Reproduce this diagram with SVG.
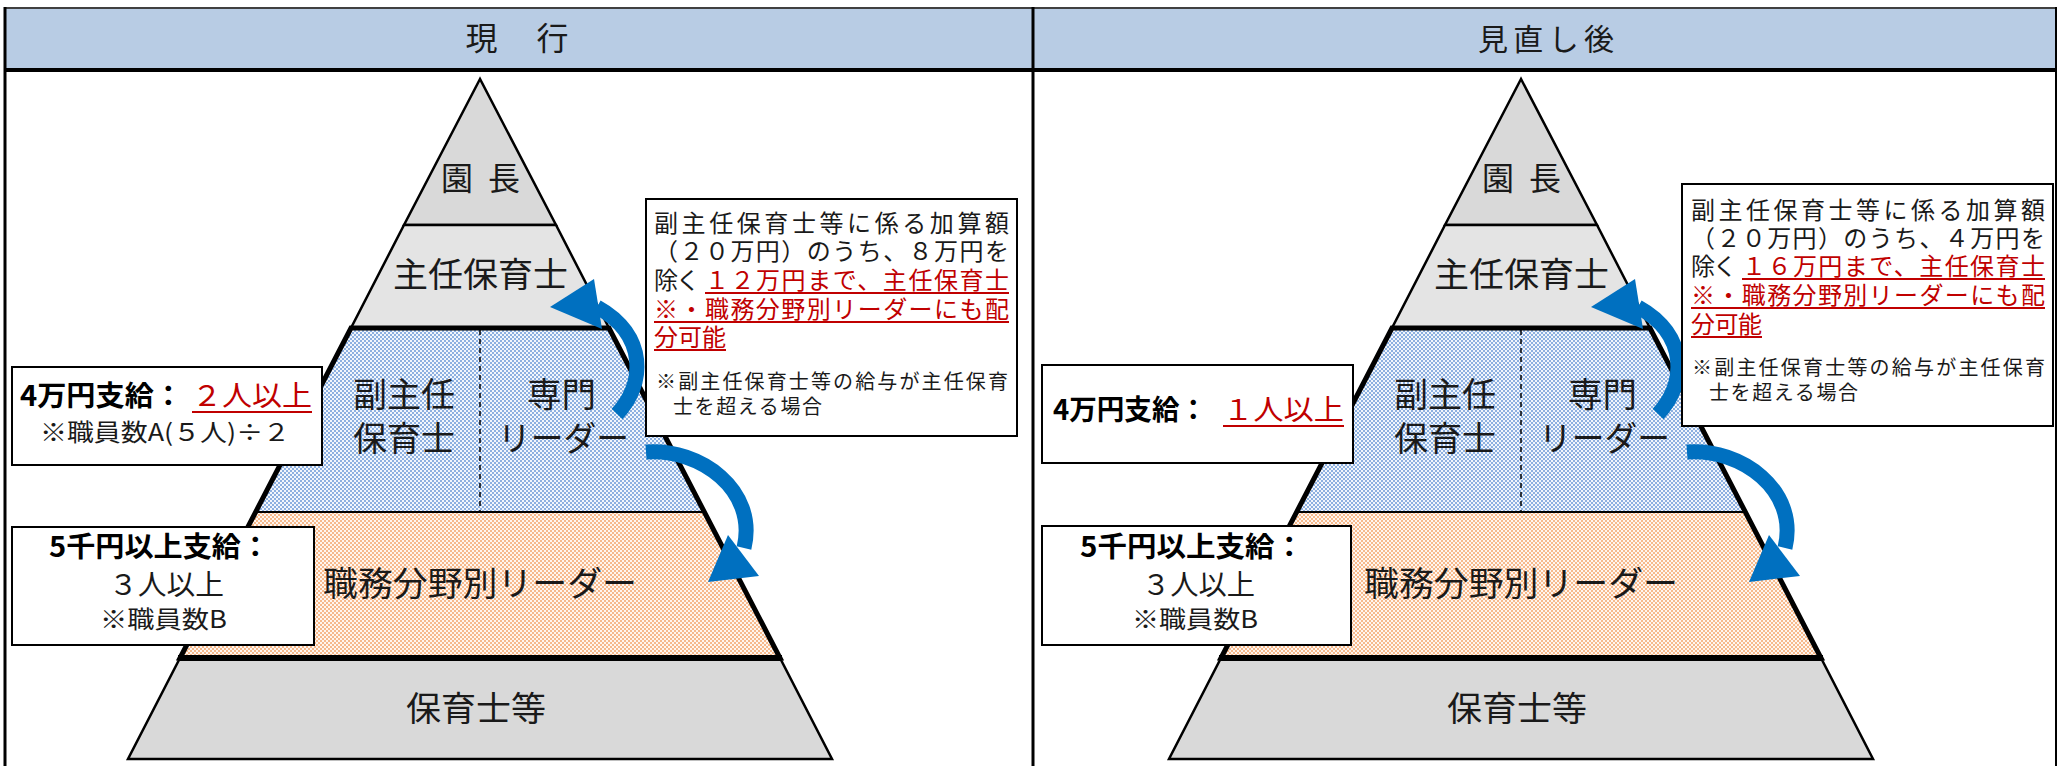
<svg xmlns="http://www.w3.org/2000/svg" width="2057" height="766" viewBox="0 0 2057 766">
<style>
.t{font-family:"Noto Sans CJK JP","Noto Sans CJK SC",sans-serif;fill:#1a1a1a}
.py{font-size:34px}
.bx{font-size:28px}
.sm{font-size:24px}
.cl{font-size:24px}
.cs{font-size:20px}
.b{font-weight:bold;fill:#000}
.red{fill:#C00000}
.ul{stroke:#C00000;stroke-width:2}
.box{fill:#fff;stroke:#000;stroke-width:2}
.thin{stroke:#000;stroke-width:2.5;fill:none}
.arr{fill:none;stroke:#0070C0;stroke-width:15}
.ah{fill:#0070C0}
</style>
<defs>
<pattern id="blueDots" width="4" height="4" patternUnits="userSpaceOnUse">
<rect width="4" height="4" fill="#F2F6FC"/>
<rect width="2" height="2" fill="#8DB0E0"/>
<rect x="2" y="2" width="2" height="2" fill="#8DB0E0"/>
</pattern>
<pattern id="orangeDots" width="4" height="4" patternUnits="userSpaceOnUse">
<rect width="4" height="4" fill="#FFF6EF"/>
<rect width="2" height="2" fill="#F6B98C"/>
<rect x="2" y="2" width="2" height="2" fill="#F6B98C"/>
</pattern>
</defs>

<g id="frame">
<rect x="5" y="8" width="2050" height="62" fill="#B8CCE4"/>
<line x1="5" y1="8" x2="2057" y2="8" stroke="#404040" stroke-width="2"/>
<line x1="5" y1="70" x2="2057" y2="70" stroke="#000" stroke-width="4"/>
<line x1="5" y1="7" x2="5" y2="766" stroke="#000" stroke-width="3"/>
<line x1="1033" y1="7" x2="1033" y2="766" stroke="#000" stroke-width="3"/>
<line x1="2056" y1="7" x2="2056" y2="766" stroke="#000" stroke-width="2"/>
<text class="t" x="517" y="50" font-size="32" text-anchor="middle" textLength="103" lengthAdjust="spacing" fill="#000">現　行</text>
<text class="t" x="1546" y="50" font-size="30" text-anchor="middle" textLength="136" lengthAdjust="spacing" fill="#000">見直し後</text>
</g>

<g id="pyramid-current">
<g id="p1-encho">
<polygon points="480,79 404,225 556,225" fill="#D9D9D9" stroke="#000" stroke-width="2.5"/>
<text class="t" x="441" y="190" font-size="32" textLength="79" lengthAdjust="spacing">園 長</text>
</g>
<g id="p1-shunin">
<polygon points="404,225 556,225 609,328 351,328" fill="#E4E4E4" stroke="#000" stroke-width="2.5"/>
<text class="t py" x="393" y="287" textLength="175" lengthAdjust="spacingAndGlyphs">主任保育士</text>
</g>
<g id="p1-fuku">
<polygon points="351,328 609,328 704,512 256,512" fill="url(#blueDots)"/>
<line x1="480" y1="330" x2="480" y2="512" stroke="#000" stroke-width="1.5" stroke-dasharray="5,4"/>
<text class="t py" x="353" y="407" textLength="102" lengthAdjust="spacingAndGlyphs">副主任</text>
<text class="t py" x="353" y="451" textLength="102" lengthAdjust="spacingAndGlyphs">保育士</text>
<text class="t py" x="527" y="407" textLength="69" lengthAdjust="spacingAndGlyphs">専門</text>
<text class="t py" x="498" y="451" textLength="131" lengthAdjust="spacingAndGlyphs">リーダー</text>
</g>
<g id="p1-shokumu">
<polygon points="256,512 704,512 780,658 180,658" fill="url(#orangeDots)"/>
<line x1="256" y1="512" x2="704" y2="512" stroke="#000" stroke-width="2"/>
<text class="t py" x="323" y="596" textLength="314" lengthAdjust="spacingAndGlyphs">職務分野別リーダー</text>
</g>
<polygon points="351,328 609,328 780,658 180,658" fill="none" stroke="#000" stroke-width="5" stroke-linejoin="miter"/>
<g id="p1-hoiku">
<polygon points="180,658 780,658 832,759 128,759" fill="#D9D9D9" stroke="#000" stroke-width="2.5"/>
<line x1="178" y1="658" x2="782" y2="658" stroke="#000" stroke-width="6"/>
<text class="t py" x="406" y="721" textLength="140" lengthAdjust="spacingAndGlyphs">保育士等</text>
</g>
</g>

<g id="pyramid-revised" transform="translate(1041,0)">
<g id="p2-encho">
<polygon points="480,79 404,225 556,225" fill="#D9D9D9" stroke="#000" stroke-width="2.5"/>
<text class="t" x="441" y="190" font-size="32" textLength="79" lengthAdjust="spacing">園 長</text>
</g>
<g id="p2-shunin">
<polygon points="404,225 556,225 609,328 351,328" fill="#E4E4E4" stroke="#000" stroke-width="2.5"/>
<text class="t py" x="393" y="287" textLength="175" lengthAdjust="spacingAndGlyphs">主任保育士</text>
</g>
<g id="p2-fuku">
<polygon points="351,328 609,328 704,512 256,512" fill="url(#blueDots)"/>
<line x1="480" y1="330" x2="480" y2="512" stroke="#000" stroke-width="1.5" stroke-dasharray="5,4"/>
<text class="t py" x="353" y="407" textLength="102" lengthAdjust="spacingAndGlyphs">副主任</text>
<text class="t py" x="353" y="451" textLength="102" lengthAdjust="spacingAndGlyphs">保育士</text>
<text class="t py" x="527" y="407" textLength="69" lengthAdjust="spacingAndGlyphs">専門</text>
<text class="t py" x="498" y="451" textLength="131" lengthAdjust="spacingAndGlyphs">リーダー</text>
</g>
<g id="p2-shokumu">
<polygon points="256,512 704,512 780,658 180,658" fill="url(#orangeDots)"/>
<line x1="256" y1="512" x2="704" y2="512" stroke="#000" stroke-width="2"/>
<text class="t py" x="323" y="596" textLength="314" lengthAdjust="spacingAndGlyphs">職務分野別リーダー</text>
</g>
<polygon points="351,328 609,328 780,658 180,658" fill="none" stroke="#000" stroke-width="5" stroke-linejoin="miter"/>
<g id="p2-hoiku">
<polygon points="180,658 780,658 832,759 128,759" fill="#D9D9D9" stroke="#000" stroke-width="2.5"/>
<line x1="178" y1="658" x2="782" y2="658" stroke="#000" stroke-width="6"/>
<text class="t py" x="406" y="721" textLength="140" lengthAdjust="spacingAndGlyphs">保育士等</text>
</g>
</g>

<g id="connectors">
<path class="arr" d="M 617 414 C 645 385, 648 335, 597 307"/>
<polygon class="ah" points="550,307 594,279 602,329"/>
<path class="arr" d="M 646 452 C 700 448, 758 490, 744 548"/>
<polygon class="ah" points="708,582 728,535 759,576"/>
<path class="arr" d="M 1658 414 C 1686 385, 1689 335, 1638 307"/>
<polygon class="ah" points="1591,307 1635,279 1643,329"/>
<path class="arr" d="M 1687 452 C 1741 448, 1799 490, 1785 548"/>
<polygon class="ah" points="1749,582 1769,535 1800,576"/>
</g>

<g id="box-40k-current">
<rect class="box" x="12" y="367" width="310" height="98"/>
<text class="t bx b" x="20" y="406" textLength="163" lengthAdjust="spacingAndGlyphs">4万円支給：</text>
<text class="t bx red" x="192" y="406" textLength="120" lengthAdjust="spacingAndGlyphs">２人以上</text>
<line class="ul" x1="192" y1="412" x2="312" y2="412"/>
<text class="t sm" x="40" y="441" textLength="250" lengthAdjust="spacingAndGlyphs">※職員数A(５人)÷２</text>
</g>

<g id="box-5k-current">
<rect class="box" x="12" y="527" width="302" height="118"/>
<text class="t bx b" x="49" y="557" textLength="221" lengthAdjust="spacingAndGlyphs">5千円以上支給：</text>
<text class="t bx" x="109" y="595" textLength="115" lengthAdjust="spacingAndGlyphs">３人以上</text>
<text class="t sm" x="100" y="628" textLength="127" lengthAdjust="spacingAndGlyphs">※職員数B</text>
</g>

<g id="callout-current">
<rect class="box" x="646" y="199" width="371" height="237"/>
<text class="t cl" x="654" y="232" textLength="355" lengthAdjust="spacing">副主任保育士等に係る加算額</text>
<text class="t cl" x="654" y="260" textLength="355" lengthAdjust="spacing">（２０万円）のうち、８万円を</text>
<text class="t cl" x="654" y="289" textLength="46" lengthAdjust="spacing">除く</text>
<text class="t cl red" x="705" y="289" textLength="304" lengthAdjust="spacing">１２万円まで、主任保育士</text>
<line class="ul" x1="705" y1="293" x2="1009" y2="293"/>
<text class="t cl red" x="654" y="318" textLength="355" lengthAdjust="spacing">※・職務分野別リーダーにも配</text>
<line class="ul" x1="654" y1="322" x2="1009" y2="322"/>
<text class="t cl red" x="654" y="346" textLength="72" lengthAdjust="spacing">分可能</text>
<line class="ul" x1="654" y1="350" x2="726" y2="350"/>
<text class="t cs" x="656" y="389" textLength="352" lengthAdjust="spacing">※副主任保育士等の給与が主任保育</text>
<text class="t cs" x="673" y="414" textLength="149" lengthAdjust="spacing">士を超える場合</text>
</g>

<g id="box-40k-revised">
<rect class="box" x="1042" y="365" width="311" height="98"/>
<text class="t bx b" x="1053" y="420" textLength="154" lengthAdjust="spacingAndGlyphs">4万円支給：</text>
<text class="t bx red" x="1223" y="420" textLength="121" lengthAdjust="spacingAndGlyphs">１人以上</text>
<line class="ul" x1="1223" y1="426" x2="1344" y2="426"/>
</g>

<g id="box-5k-revised">
<rect class="box" x="1042" y="526" width="309" height="119"/>
<text class="t bx b" x="1080" y="557" textLength="224" lengthAdjust="spacingAndGlyphs">5千円以上支給：</text>
<text class="t bx" x="1142" y="595" textLength="113" lengthAdjust="spacingAndGlyphs">３人以上</text>
<text class="t sm" x="1132" y="628" textLength="126" lengthAdjust="spacingAndGlyphs">※職員数B</text>
</g>

<g id="callout-revised">
<rect class="box" x="1682" y="184" width="371" height="242"/>
<text class="t cl" x="1691" y="219" textLength="354" lengthAdjust="spacing">副主任保育士等に係る加算額</text>
<text class="t cl" x="1691" y="247" textLength="354" lengthAdjust="spacing">（２０万円）のうち、４万円を</text>
<text class="t cl" x="1691" y="275" textLength="46" lengthAdjust="spacing">除く</text>
<text class="t cl red" x="1742" y="275" textLength="303" lengthAdjust="spacing">１６万円まで、主任保育士</text>
<line class="ul" x1="1742" y1="279" x2="2045" y2="279"/>
<text class="t cl red" x="1691" y="304" textLength="354" lengthAdjust="spacing">※・職務分野別リーダーにも配</text>
<line class="ul" x1="1691" y1="308" x2="2045" y2="308"/>
<text class="t cl red" x="1691" y="333" textLength="71" lengthAdjust="spacing">分可能</text>
<line class="ul" x1="1691" y1="337" x2="1762" y2="337"/>
<text class="t cs" x="1692" y="375" textLength="353" lengthAdjust="spacing">※副主任保育士等の給与が主任保育</text>
<text class="t cs" x="1709" y="400" textLength="149" lengthAdjust="spacing">士を超える場合</text>
</g>
</svg>
